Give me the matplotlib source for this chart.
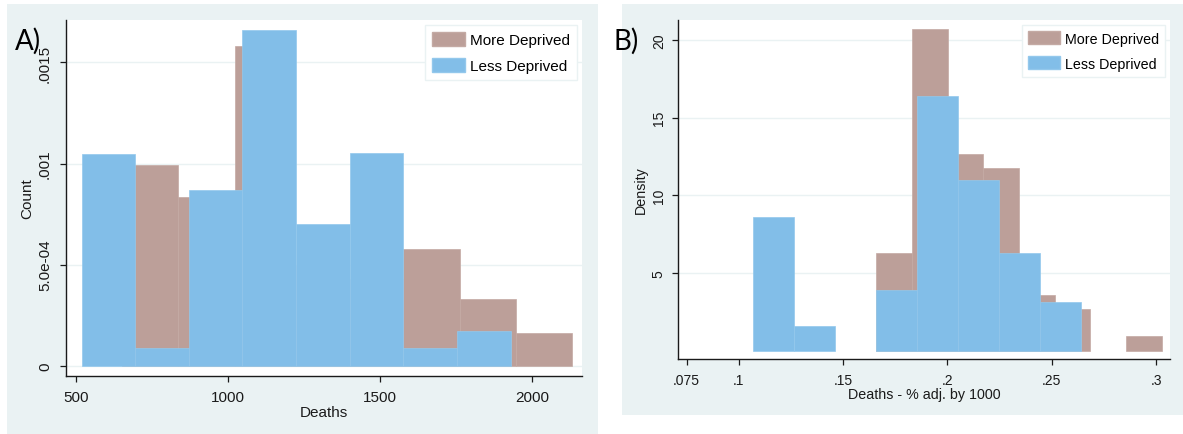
import matplotlib
matplotlib.use("Agg")
import matplotlib.pyplot as plt
from matplotlib.patches import Rectangle, Patch
import numpy as np

plt.rcParams['font.family'] = ['Liberation Sans', 'DejaVu Sans']

# ---------------- data ----------------
series_labels = ["More Deprived", "Less Deprived"]

# Panel A (Deaths)
a_more_edges = [651, 836, 1021, 1206, 1391, 1576, 1761, 1946, 2131]
a_more_dens = [0.000995, 0.000834, 0.00158, 0.00050, 0.00043, 0.000579, 0.000329, 0.000161]
a_less_edges = [519, 695, 871, 1047, 1223, 1400, 1576, 1752, 1928]
a_less_dens = [0.001048, 0.000086, 0.00087, 0.001661, 0.000699, 0.00105, 0.000086, 0.000173]
a_xticks = [500, 1000, 1500, 2000]
a_xticklabels = ["500", "1000", "1500", "2000"]
a_yticks = [0, 0.0005, 0.001, 0.0015]
a_yticklabels = ["0", "5.0e-04", ".001", ".0015"]

# Panel B (Deaths - % adj. by 1000)
b_more_edges = [0.16585, 0.18296, 0.20007, 0.21718, 0.23429, 0.2514, 0.26851, 0.28562, 0.30273]
b_more_dens = [6.3, 20.7, 12.67, 11.75, 3.62, 2.7, 0.0, 0.95]
b_less_edges = [0.1067, 0.1264, 0.1460, 0.1657, 0.1853, 0.2050, 0.2247, 0.2443, 0.2640]
b_less_dens = [8.6, 1.63, 0.0, 3.95, 16.41, 11.0, 6.3, 3.17]
b_xticks = [0.075, 0.1, 0.15, 0.2, 0.25, 0.3]
b_xticklabels = [".075", ".1", ".15", ".2", ".25", ".3"]
b_yticks = [5, 10, 15, 20]
b_yticklabels = ["5", "10", "15", "20"]

# ---------------- style ----------------
W, H = 1183, 435
C_MORE = "#bc9f99"
C_MORE_EDGE = "#c4aaa4"
C_LESS = "#82bee8"
C_LESS_EDGE = "#93c8ec"
BG = "#eaf2f3"
GRID = "#eaf2f3"
TXT = "#1a1a1a"

fig = plt.figure(figsize=(W / 100, H / 100), dpi=100)
fig.patch.set_facecolor("white")

def px_rect(x0, y0, x1, y1):
    return [x0 / W, 1 - y1 / H, (x1 - x0) / W, (y1 - y0) / H]

# panel backgrounds
l, b, w, h = px_rect(7, 5, 597.7, 435)
fig.patches.append(Rectangle((l, b), w, h, transform=fig.transFigure, facecolor=BG,
                             edgecolor="none", zorder=-10))
l, b, w, h = px_rect(622, 5, 1183, 415.5)
fig.patches.append(Rectangle((l, b), w, h, transform=fig.transFigure, facecolor=BG,
                             edgecolor="none", zorder=-10))

axA = fig.add_axes(px_rect(66, 21, 581.7, 376.7))
axB = fig.add_axes(px_rect(678.3, 20.7, 1170, 360.3))


def draw_hist(ax, edges, dens, color, ecolor, z):
    edges = np.asarray(edges, dtype=float)
    dens = np.asarray(dens, dtype=float)
    widths = np.diff(edges)
    lws = [0.5 if d > 0 else 0.0 for d in dens]
    ax.bar(edges[:-1], dens, width=widths, align="edge", color=color,
           edgecolor=ecolor, linewidth=lws, zorder=z)


def style_axis(ax, fs, ypad, xpad):
    ax.set_facecolor("white")
    for s in ["top", "right"]:
        ax.spines[s].set_visible(False)
    for s in ["left", "bottom"]:
        ax.spines[s].set_color(TXT)
        ax.spines[s].set_linewidth(1.0)
    ax.tick_params(axis="both", direction="out", length=4, width=0.9, color=TXT,
                   labelsize=fs, labelcolor=TXT)
    ax.tick_params(axis="y", pad=ypad)
    ax.tick_params(axis="x", pad=xpad)
    ax.yaxis.grid(True, color=GRID, linewidth=1.0, zorder=0)
    ax.set_axisbelow(True)


# ---------- Panel A ----------
draw_hist(axA, a_more_edges, a_more_dens, C_MORE, C_MORE_EDGE, 2)
draw_hist(axA, a_less_edges, a_less_dens, C_LESS, C_LESS_EDGE, 3)
axA.set_xlim(467, 2162)
axA.set_ylim(-0.0000493, 0.00171)
style_axis(axA, 11, 6, 6)
axA.set_xticks(a_xticks)
axA.set_xticklabels(a_xticklabels)
axA.set_yticks(a_yticks)
axA.set_yticklabels(a_yticklabels, rotation=90, va="center")
axA.set_xlabel("Deaths", fontsize=11, color=TXT, labelpad=1)
axA.set_ylabel("Count", fontsize=11, color=TXT, labelpad=3)

handles = [Patch(facecolor=C_MORE, edgecolor=C_MORE_EDGE), Patch(facecolor=C_LESS, edgecolor=C_LESS_EDGE)]
legA = axA.legend(handles, series_labels, loc="upper right", bbox_to_anchor=(0.9903, 0.986),
                  borderaxespad=0, fontsize=11, frameon=True, fancybox=False,
                  edgecolor=BG, facecolor="white", framealpha=1,
                  handlelength=2.2, handleheight=1.0, handletextpad=0.3,
                  labelspacing=0.75, borderpad=0.45)
legA.get_frame().set_linewidth(1.0)
legA.set_zorder(5)

# ---------- Panel B ----------
draw_hist(axB, b_more_edges, b_more_dens, C_MORE, C_MORE_EDGE, 2)
draw_hist(axB, b_less_edges, b_less_dens, C_LESS, C_LESS_EDGE, 3)
axB.set_xlim(0.07102, 0.30671)
axB.set_ylim(-0.53, 21.3)
style_axis(axB, 10, 5, 6)
axB.set_xticks(b_xticks)
axB.set_xticklabels(b_xticklabels)
axB.set_yticks(b_yticks)
axB.set_yticklabels(b_yticklabels, rotation=90, va="center")
axB.set_xlabel("Deaths - % adj. by 1000", fontsize=10.3, color=TXT, labelpad=0)
axB.set_ylabel("Density", fontsize=10.3, color=TXT, labelpad=3)

legB = axB.legend(handles, series_labels, loc="upper right", bbox_to_anchor=(0.9902, 0.985),
                  borderaxespad=0, fontsize=10.3, frameon=True, fancybox=False,
                  edgecolor=BG, facecolor="white", framealpha=1,
                  handlelength=2.2, handleheight=1.0, handletextpad=0.35,
                  labelspacing=0.75, borderpad=0.45)
legB.get_frame().set_linewidth(1.0)
legB.set_zorder(5)

# panel letters
fig.text(15 / W, 1 - 50 / H, "A)", fontsize=20, family=["Lato", "DejaVu Sans"], color="black",
         ha="left", va="baseline")
fig.text(614 / W, 1 - 50 / H, "B)", fontsize=20, family=["Lato", "DejaVu Sans"], color="black",
         ha="left", va="baseline")

fig.savefig("out.png", dpi=100, facecolor="white")
